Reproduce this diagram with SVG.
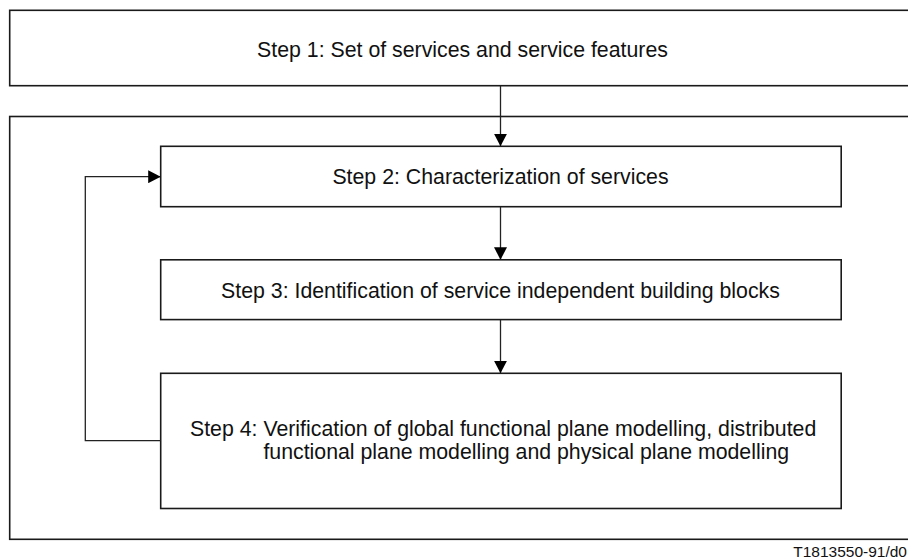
<svg xmlns="http://www.w3.org/2000/svg" width="908" height="560" viewBox="0 0 908 560">
  <style>
    .box { fill: #ffffff; stroke: #1a1a1a; stroke-width: 1.6; }
    .frame { fill: none; stroke: #1a1a1a; stroke-width: 1.6; }
    .wire { fill: none; stroke: #222222; stroke-width: 1.3; }
    .label { font-family: "Liberation Sans", Arial, sans-serif; font-size: 21.3px; fill: #111111; }
    .ref { font-family: "Liberation Sans", Arial, sans-serif; font-size: 15.5px; fill: #111111; }
  </style>
  <defs>
    <marker id="arrow" markerUnits="userSpaceOnUse" markerWidth="13" markerHeight="13" refX="12.5" refY="6.5" orient="auto">
      <path d="M0,0 L12.5,6.5 L0,13 z" fill="#000000"/>
    </marker>
  </defs>

  <rect x="0" y="0" width="908" height="560" fill="#ffffff"/>

  <!-- outer frame around steps 2 to 4 (runs past the right edge) -->
  <rect id="frame" class="frame" x="9.7" y="116.5" width="910" height="422.8"/>

  <g id="step1">
    <rect class="box" x="9.7" y="10.3" width="910" height="75.4"/>
    <text class="label" x="462.5" y="57.3" text-anchor="middle">Step 1: Set of services and service features</text>
  </g>

  <g id="step2">
    <rect class="box" x="160.7" y="146.3" width="680.5" height="60.4"/>
    <text class="label" x="500.5" y="184" text-anchor="middle">Step 2: Characterization of services</text>
  </g>

  <g id="step3">
    <rect class="box" x="160.7" y="259.8" width="680.5" height="59.8"/>
    <text class="label" x="500.5" y="297.5" text-anchor="middle">Step 3: Identification of service independent building blocks</text>
  </g>

  <g id="step4">
    <rect class="box" x="160.7" y="373.3" width="680.5" height="135.2"/>
    <text class="label" x="190" y="436">Step 4: Verification of global functional plane modelling, distributed</text>
    <text class="label" x="263.4" y="459">functional plane modelling and physical plane modelling</text>
  </g>

  <g id="connectors">
    <line class="wire" x1="500.5" y1="85.7" x2="500.5" y2="146.3" marker-end="url(#arrow)"/>
    <line class="wire" x1="500.5" y1="206.7" x2="500.5" y2="259.8" marker-end="url(#arrow)"/>
    <line class="wire" x1="500.5" y1="319.6" x2="500.5" y2="373.3" marker-end="url(#arrow)"/>
    <polyline class="wire" points="160.7,440.7 85.3,440.7 85.3,176.7 160.7,176.7" marker-end="url(#arrow)"/>
  </g>

  <text class="ref" x="907" y="556.5" text-anchor="end">T1813550-91/d0</text>
</svg>
